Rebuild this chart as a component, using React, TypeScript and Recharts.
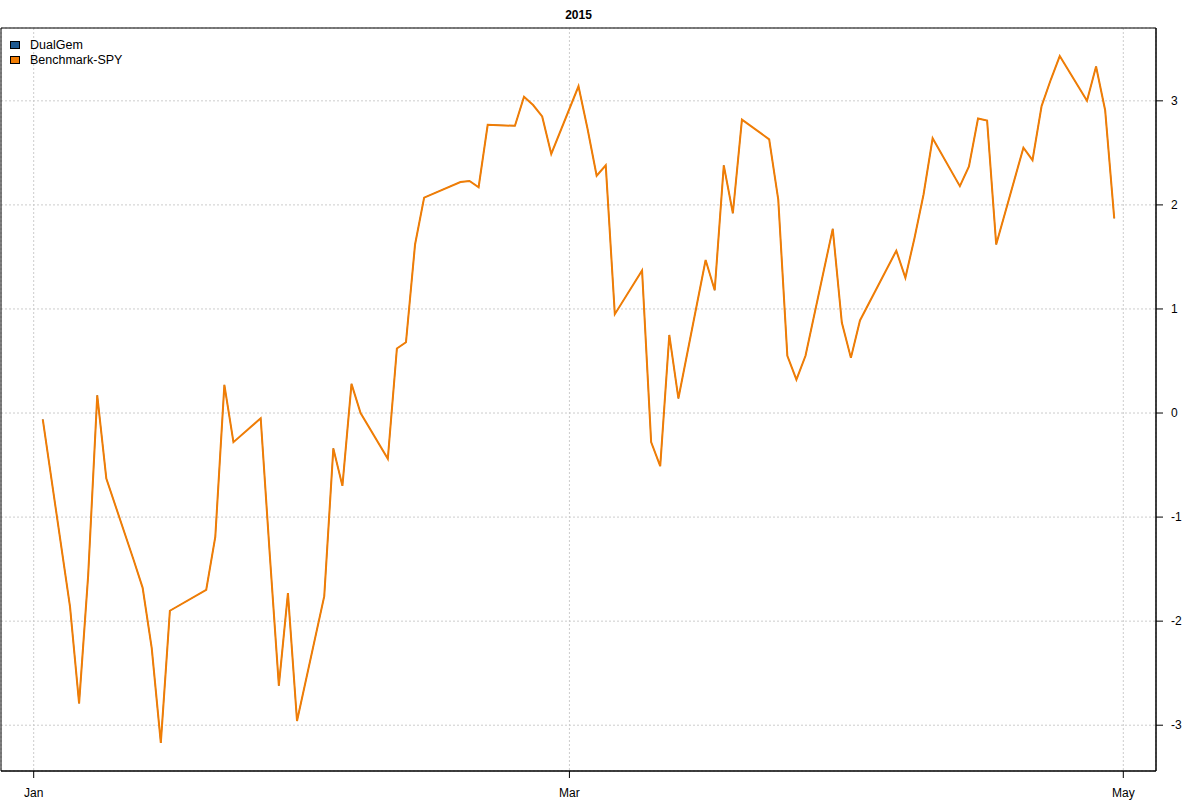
import React from "react";
import {
  LineChart,
  Line,
  XAxis,
  YAxis,
  CartesianGrid,
  Legend,
  ReferenceArea,
  Customized,
} from "recharts";

// Trading days shown in the chart (2015)
const dates = [
  "2015-01-02", "2015-01-05", "2015-01-06", "2015-01-07", "2015-01-08", "2015-01-09",
  "2015-01-12", "2015-01-13", "2015-01-14", "2015-01-15", "2015-01-16",
  "2015-01-20", "2015-01-21", "2015-01-22", "2015-01-23",
  "2015-01-26", "2015-01-27", "2015-01-28", "2015-01-29", "2015-01-30",
  "2015-02-02", "2015-02-03", "2015-02-04", "2015-02-05", "2015-02-06",
  "2015-02-09", "2015-02-10", "2015-02-11", "2015-02-12", "2015-02-13",
  "2015-02-17", "2015-02-18", "2015-02-19", "2015-02-20",
  "2015-02-23", "2015-02-24", "2015-02-25", "2015-02-26", "2015-02-27",
  "2015-03-02", "2015-03-03", "2015-03-04", "2015-03-05", "2015-03-06",
  "2015-03-09", "2015-03-10", "2015-03-11", "2015-03-12", "2015-03-13",
  "2015-03-16", "2015-03-17", "2015-03-18", "2015-03-19", "2015-03-20",
  "2015-03-23", "2015-03-24", "2015-03-25", "2015-03-26", "2015-03-27",
  "2015-03-30", "2015-03-31", "2015-04-01", "2015-04-02",
  "2015-04-06", "2015-04-07", "2015-04-08", "2015-04-09", "2015-04-10",
  "2015-04-13", "2015-04-14", "2015-04-15", "2015-04-16", "2015-04-17",
  "2015-04-20", "2015-04-21", "2015-04-22", "2015-04-23", "2015-04-24",
  "2015-04-27", "2015-04-28", "2015-04-29", "2015-04-30",
];

// Benchmark-SPY cumulative values
const spyValues = [
  -0.06, -1.86, -2.79, -1.56, 0.17, -0.63,
  -1.41, -1.68, -2.26, -3.17, -1.9,
  -1.7, -1.19, 0.27, -0.28,
  -0.05, -1.36, -2.62, -1.73, -2.96,
  -1.76, -0.34, -0.7, 0.28, 0.0,
  -0.44, 0.62, 0.68, 1.62, 2.07,
  2.22, 2.23, 2.17, 2.77,
  2.76, 3.04, 2.96, 2.85, 2.49,
  3.14, 2.73, 2.28, 2.38, 0.95,
  1.37, -0.28, -0.51, 0.75, 0.14,
  1.47, 1.18, 2.38, 1.92, 2.82,
  2.63, 2.05, 0.55, 0.32, 0.55,
  1.77, 0.87, 0.53, 0.89,
  1.56, 1.3, 1.68, 2.1, 2.64,
  2.18, 2.37, 2.83, 2.81, 1.62,
  2.55, 2.43, 2.95, 3.2, 3.43,
  3.0, 3.33, 2.91, 1.87,
];

// DualGem lies exactly under the benchmark line in the picture (same values)
const dualGemValues = spyValues;

const seriesNames = ["DualGem", "Benchmark-SPY"];
const seriesColors = ["#1F5A91", "#F07D05"];

const xTickDates = ["2015-01-01", "2015-03-01", "2015-05-01"];
const xTickLabels = ["Jan", "Mar", "May"];
const yTicks = [-3, -2, -1, 0, 1, 2, 3];
const title = "2015";

const ORIGIN = Date.UTC(2015, 0, 1);
const toDay = (s: string) => {
  const [y, m, d] = s.split("-").map(Number);
  return (Date.UTC(y, m - 1, d) - ORIGIN) / 86400000;
};

const data = dates.map((d, i) => ({
  day: toDay(d),
  dualGem: dualGemValues[i],
  spy: spyValues[i],
}));

const xTicks = xTickDates.map(toDay);
const xLabelFor = (v: number) => {
  const idx = xTicks.indexOf(v);
  return idx >= 0 ? xTickLabels[idx] : "";
};

const FONT = "'Liberation Sans', Arial, Helvetica, sans-serif";

const renderLegend = () => (
  <div style={{ fontFamily: FONT, fontSize: 12.5, color: "#000", textAlign: "left" }}>
    {seriesNames.map((name, i) => (
      <div
        key={name}
        style={{ display: "flex", alignItems: "center", height: "14.7px" }}
      >
        <span
          style={{
            display: "inline-block",
            width: 8,
            height: 6,
            background: seriesColors[i],
            border: "1px solid #000",
            marginRight: 10,
          }}
        />
        <span>{name}</span>
      </div>
    ))}
  </div>
);

const X_MIN = -3.6;
const X_MAX = 123.6;
const Y_MIN = -3.44;
const Y_MAX = 3.7;

export default function App() {
  return (
    <div style={{ position: "absolute", left: 0, top: 0, width: 1200, height: 800, background: "#fff" }}>
      <LineChart
        width={1200}
        height={800}
        data={data}
        margin={{ top: 28, right: 4, bottom: 4, left: 1 }}
      >
        <CartesianGrid stroke="#cccccc" strokeDasharray="2 2" />
        <XAxis
          type="number"
          dataKey="day"
          domain={[X_MIN, X_MAX]}
          ticks={xTicks}
          tickFormatter={xLabelFor}
          allowDataOverflow
          height={25}
          tickSize={7}
          tickMargin={10}
          axisLine={{ stroke: "#000" }}
          tickLine={{ stroke: "#000" }}
          tick={{ fill: "#000", fontSize: 12, fontFamily: FONT }}
          interval={0}
        />
        <YAxis
          orientation="right"
          type="number"
          domain={[Y_MIN, Y_MAX]}
          ticks={yTicks}
          allowDataOverflow
          width={40}
          tickSize={7}
          tickMargin={8}
          axisLine={{ stroke: "#000" }}
          tickLine={{ stroke: "#000" }}
          tick={{ fill: "#000", fontSize: 12, fontFamily: FONT, textAnchor: "start" }}
          interval={0}
        />
        <ReferenceArea
          x1={X_MIN}
          x2={X_MAX}
          y1={Y_MIN}
          y2={Y_MAX}
          fill="none"
          fillOpacity={0}
          stroke="#000"
          strokeWidth={1}
          ifOverflow="visible"
        />
        <Line
          type="linear"
          dataKey="dualGem"
          name={seriesNames[0]}
          stroke={seriesColors[0]}
          strokeWidth={1}
          dot={false}
          isAnimationActive={false}
        />
        <Line
          type="linear"
          dataKey="spy"
          name={seriesNames[1]}
          stroke={seriesColors[1]}
          strokeWidth={2}
          dot={false}
          isAnimationActive={false}
        />
        <Legend
          layout="horizontal"
          verticalAlign="middle"
          align="center"
          content={renderLegend}
          wrapperStyle={{ left: 10, top: 37.5, width: 200, height: 30 }}
        />
        <Customized
          component={() => (
            <text
              x={578.5}
              y={15}
              textAnchor="middle"
              dominantBaseline="central"
              fontFamily={FONT}
              fontSize={12}
              fontWeight="bold"
              fill="#000"
            >
              {title}
            </text>
          )}
        />
      </LineChart>
    </div>
  );
}
